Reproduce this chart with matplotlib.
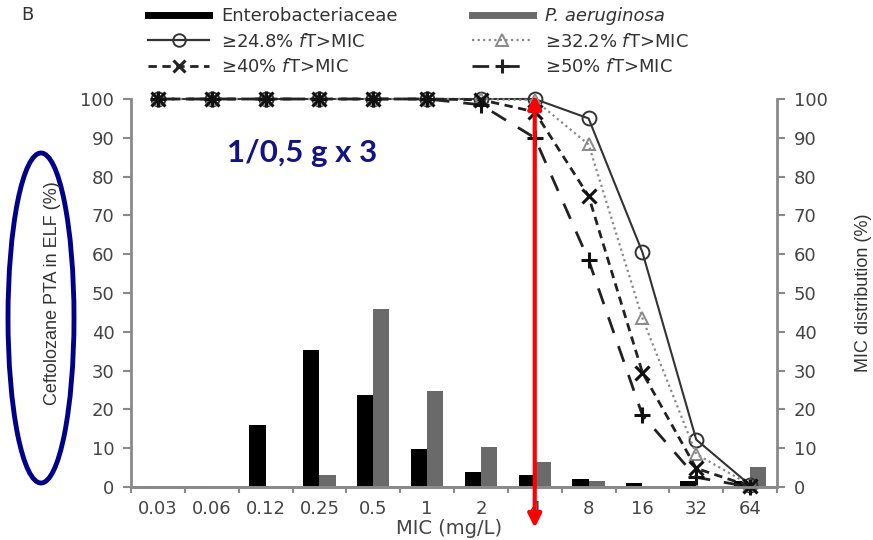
import matplotlib
matplotlib.use("Agg")
import matplotlib.pyplot as plt
from matplotlib.patches import Ellipse
from matplotlib.lines import Line2D
import numpy as np

plt.rcParams['font.family'] = ['DejaVu Sans']
plt.rcParams['mathtext.fontset'] = 'custom'
plt.rcParams['mathtext.it'] = 'DejaVu Sans:italic'
plt.rcParams['mathtext.rm'] = 'DejaVu Sans'

# MIC categories (mg/L)
mic_labels = ['0.03', '0.06', '0.12', '0.25', '0.5', '1', '2', '4', '8', '16', '32', '64']

# MIC distributions (%)
entero = [0.2, 0.2, 16.0, 35.3, 23.8, 9.7, 3.9, 3.1, 2.0, 1.1, 1.5, 1.5]
paeru = [0.0, 0.2, 0.2, 3.1, 46.0, 24.8, 10.4, 6.5, 1.5, 0.3, 0.0, 5.2]

# Probability of target attainment in ELF (%)
pta_248 = [100, 100, 100, 100, 100, 100, 100, 100, 95.0, 60.5, 12.2, 0.5]
pta_322 = [100, 100, 100, 100, 100, 100, 100, 99.7, 88.3, 43.5, 8.5, 0.5]
pta_40 = [100, 100, 100, 100, 100, 100, 99.8, 96.7, 75.0, 29.5, 4.8, 0.2]
pta_50 = [100, 100, 100, 100, 100, 100, 98.5, 90.0, 58.5, 18.5, 2.5, 0.0]

dose_text = '1/0,5 g x 3'
marked_mic = '4'

W, H = 873, 540
fig = plt.figure(figsize=(W / 100, H / 100), dpi=100)
ax = fig.add_axes([131 / W, 1 - 487 / H, 646 / W, 388 / H])
ax2 = ax.twinx()

x = np.arange(len(mic_labels))
bw = 0.3
spine_col = '#8a8a8a'
tick_col = '#444444'
label_font = ['Liberation Sans', 'DejaVu Sans']

# bars on the secondary (distribution) axis
ax2.bar(x - bw / 2, entero, width=bw, color='black', zorder=2)
ax2.bar(x + bw / 2, paeru, width=bw, color='#6a6a6a', zorder=2)

# PTA curves on the primary axis, drawn above the bars
ax.set_zorder(ax2.get_zorder() + 1)
ax.patch.set_visible(False)

ax.plot(x, pta_248, color='#333333', lw=1.5, ls='-', marker='o', ms=10,
        mfc='none', mec='#333333', mew=1.4, clip_on=False)
ax.plot(x, pta_322, color='#8a8a8a', lw=1.6, ls=(0, (1, 1.5)), marker='^', ms=9,
        mfc='none', mec='#8a8a8a', mew=1.4, clip_on=False)
ax.plot(x, pta_40, color='#222222', lw=2.0, ls=(0, (3, 2)), marker='x', ms=10,
        mec='#111111', mew=2.2, clip_on=False)
ax.plot(x, pta_50, color='#222222', lw=2.0, ls=(0, (6, 5)), marker='+', ms=11,
        mec='#111111', mew=2.2, clip_on=False)

for a in (ax, ax2):
    a.set_xlim(-0.5, len(mic_labels) - 0.5)
    a.set_ylim(0, 100)
    a.set_yticks(np.arange(0, 101, 10))
    a.spines['top'].set_visible(False)
    for s in ('left', 'right', 'bottom'):
        a.spines[s].set_color(spine_col)
        a.spines[s].set_linewidth(2)
    a.tick_params(axis='y', colors=spine_col, labelcolor=tick_col, labelsize=13,
                  length=6, width=1.5, pad=6)

ax.spines['right'].set_visible(False)
ax2.spines['left'].set_visible(False)

ax.set_xticks(x)
ax.set_xticklabels(mic_labels)
ax.set_xticks(np.arange(-0.5, len(mic_labels), 1), minor=True)
ax.tick_params(axis='x', which='major', length=0, labelsize=13, labelcolor=tick_col, pad=9)
ax.tick_params(axis='x', which='minor', length=4, width=1.5, color=spine_col)

fig.text(449 / W, 1 - 528 / H, 'MIC (mg/L)', fontsize=14, color=tick_col,
         ha='center', va='center')
ax.set_ylabel('Ceftolozane PTA in ELF (%)', fontsize=13, color='#333333',
              family=label_font, labelpad=14)
ax2.set_ylabel('MIC distribution (%)', fontsize=13, color='#333333',
               family=label_font, labelpad=20)

# dose annotation
ax.text(0.265, 0.86, dose_text, transform=ax.transAxes, fontsize=22.5, fontweight='bold',
        color='#12128a', family=['Lato', 'DejaVu Sans'], ha='center', va='center')

# red double arrow at the marked MIC
xi = mic_labels.index(marked_mic)
ax.annotate('', xy=(xi, 101.0), xytext=(xi, -10.5), annotation_clip=False,
            arrowprops=dict(arrowstyle='<|-|>,head_length=0.8,head_width=0.4',
                            color='#ff0000', lw=3, shrinkA=0, shrinkB=0))

# ellipse around the left axis title
fig.add_artist(Ellipse((41 / W, 1 - 318 / H), 66 / W, 330 / H, transform=fig.transFigure,
                       fill=False, edgecolor='#00008b', lw=3.5))

# panel letter
fig.text(27 / W, 1 - 15 / H, 'B', fontsize=13, color='#333333', ha='center', va='center')

# legend
handles = [
    Line2D([], [], color='black', lw=5),
    Line2D([], [], color='#333333', lw=1.6, marker='o', ms=9, mfc='none', mew=1.4),
    Line2D([], [], color='#222222', lw=2.0, ls=(0, (3, 2)), marker='x', ms=9, mew=2.2),
    Line2D([], [], color='#6a6a6a', lw=5),
    Line2D([], [], color='#8a8a8a', lw=1.6, ls=(0, (1, 1.5)), marker='^', ms=9, mfc='none', mew=1.4),
    Line2D([], [], color='#222222', lw=2.0, ls=(0, (6, 5)), marker='+', ms=10, mew=2.2),
]
labels = [
    'Enterobacteriaceae',
    '≥24.8% $\\it{f}$T>MIC',
    '≥40% $\\it{f}$T>MIC',
    'P. aeruginosa',
    '≥32.2% $\\it{f}$T>MIC',
    '≥50% $\\it{f}$T>MIC',
]
leg = fig.legend(handles, labels, ncol=2, loc='upper left', bbox_to_anchor=(148 / W, 1 - 7 / H),
                 frameon=False, fontsize=13, handlelength=3.4, handletextpad=0.65,
                 columnspacing=4.1, labelspacing=0.42, borderaxespad=0, borderpad=0)
for t in leg.get_texts():
    t.set_color('#333333')
    if t.get_text() == 'P. aeruginosa':
        t.set_fontstyle('italic')

fig.savefig('out.png', dpi=100)
